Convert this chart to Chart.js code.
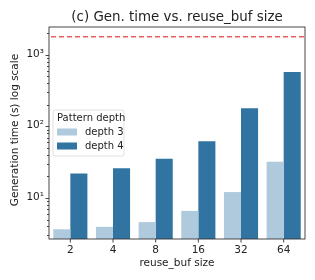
<!DOCTYPE html>
<html>
<head>
<meta charset="utf-8">
<script src="https://cdn.jsdelivr.net/npm/chart.js@4/dist/chart.umd.min.js"></script>
<style>
  html, body { margin: 0; padding: 0; background: #fff; }
  #wrap { width: 315px; height: 280px; }
</style>
</head>
<body>
<div id="wrap"><canvas id="c" width="315" height="280"></canvas></div>
<script>
var bufSizes = ['2', '4', '8', '16', '32', '64'];
var depth3 = [3.65, 3.95, 4.6, 6.6, 12.1, 32];
var depth4 = [22, 26, 35.5, 62, 180, 580];
var timeoutLine = 1800;
var seriesNames = ['depth 3', 'depth 4'];
var seriesColors = ['#afcadc', '#3274a1'];

var font = "'DejaVu Sans', sans-serif";
var sup = { 1: '\u00b9', 2: '\u00b2', 3: '\u00b3' };

// axes, ticks, red line, titles and legend, matplotlib style
var decor = {
  id: 'decor',
  afterDatasetsDraw: function(chart) {
    var ctx = chart.ctx, a = chart.chartArea;
    var y = chart.scales.y, x = chart.scales.x;
    ctx.save();

    // timeout line
    var ly = y.getPixelForValue(timeoutLine);
    ctx.strokeStyle = 'rgba(228,70,70,0.85)';
    ctx.lineWidth = 1.4;
    ctx.setLineDash([5, 3]);
    ctx.beginPath();
    ctx.moveTo(a.left + 2, ly);
    ctx.lineTo(a.right, ly);
    ctx.stroke();
    ctx.setLineDash([]);

    // frame
    ctx.strokeStyle = '#333';
    ctx.lineWidth = 0.9;
    ctx.strokeRect(a.left, a.top, a.right - a.left, a.bottom - a.top);

    // y ticks
    ctx.fillStyle = '#222';
    ctx.font = '10.5px ' + font;
    ctx.textAlign = 'right';
    ctx.textBaseline = 'middle';
    for (var e = 0; e <= 3; e++) {
      for (var m = 1; m <= 9; m++) {
        var v = m * Math.pow(10, e);
        if (v < y.min || v > y.max) continue;
        var py = Math.round(y.getPixelForValue(v)) + 0.5;
        var len = m === 1 ? 3.5 : 2;
        ctx.beginPath();
        ctx.moveTo(a.left - len, py);
        ctx.lineTo(a.left, py);
        ctx.stroke();
        if (m === 1) ctx.fillText('10' + sup[e], a.left - 5, py - 1);
      }
    }

    // x ticks
    ctx.textAlign = 'center';
    ctx.textBaseline = 'top';
    for (var i = 0; i < bufSizes.length; i++) {
      var px = x.getPixelForValue(i);
      ctx.beginPath();
      ctx.moveTo(px, a.bottom);
      ctx.lineTo(px, a.bottom + 3.5);
      ctx.stroke();
      ctx.fillText(bufSizes[i], px, a.bottom + 6);
    }

    // axis titles
    ctx.fillText('reuse_buf size', (a.left + a.right) / 2, 258);
    ctx.save();
    ctx.translate(15, (a.top + a.bottom) / 2 - 3);
    ctx.rotate(-Math.PI / 2);
    ctx.textBaseline = 'middle';
    ctx.fillText('Generation time (s) log scale', 0, 0);
    ctx.restore();

    // title
    ctx.font = '13.4px ' + font;
    ctx.textBaseline = 'alphabetic';
    ctx.fillText('(c) Gen. time vs. reuse_buf size', (a.left + a.right) / 2, 21);

    // legend
    var bx = a.left + 4, by = 110, bw = 71, bh = 46;
    ctx.fillStyle = 'rgba(255,255,255,0.85)';
    ctx.strokeStyle = '#d8d8d8';
    ctx.lineWidth = 0.8;
    ctx.beginPath();
    ctx.roundRect(bx, by, bw, bh, 2);
    ctx.fill();
    ctx.stroke();
    ctx.fillStyle = '#222';
    ctx.font = '10px ' + font;
    ctx.textAlign = 'left';
    ctx.textBaseline = 'middle';
    ctx.fillText('Pattern depth', bx + 4, by + 8);
    chart.data.datasets.forEach(function(ds, k) {
      var ry = by + 22 + k * 14;
      ctx.fillStyle = ds.backgroundColor;
      ctx.fillRect(bx + 4, ry - 3.5, 20, 7);
      ctx.fillStyle = '#222';
      ctx.fillText(ds.label, bx + 32, ry);
    });
    ctx.restore();
  }
};

new Chart(document.getElementById('c'), {
  type: 'bar',
  data: {
    labels: bufSizes,
    datasets: [
      { label: seriesNames[0], data: depth3, backgroundColor: seriesColors[0], borderWidth: 0 },
      { label: seriesNames[1], data: depth4, backgroundColor: seriesColors[1], borderWidth: 0 }
    ]
  },
  options: {
    responsive: false,
    animation: false,
    layout: { padding: { top: 27, right: 10, left: 0, bottom: 0 } },
    plugins: { legend: { display: false }, title: { display: false }, tooltip: { enabled: false } },
    datasets: { bar: { categoryPercentage: 0.8, barPercentage: 1 } },
    scales: {
      x: {
        grid: { display: false },
        border: { display: false },
        ticks: { display: false },
        afterFit: function(s) { s.height = 41; }
      },
      y: {
        type: 'logarithmic',
        min: 2.67,
        max: 2460,
        grid: { display: false },
        border: { display: false },
        ticks: { display: false },
        afterFit: function(s) { s.width = 49; }
      }
    }
  },
  plugins: [decor]
});
</script>
</body>
</html>
